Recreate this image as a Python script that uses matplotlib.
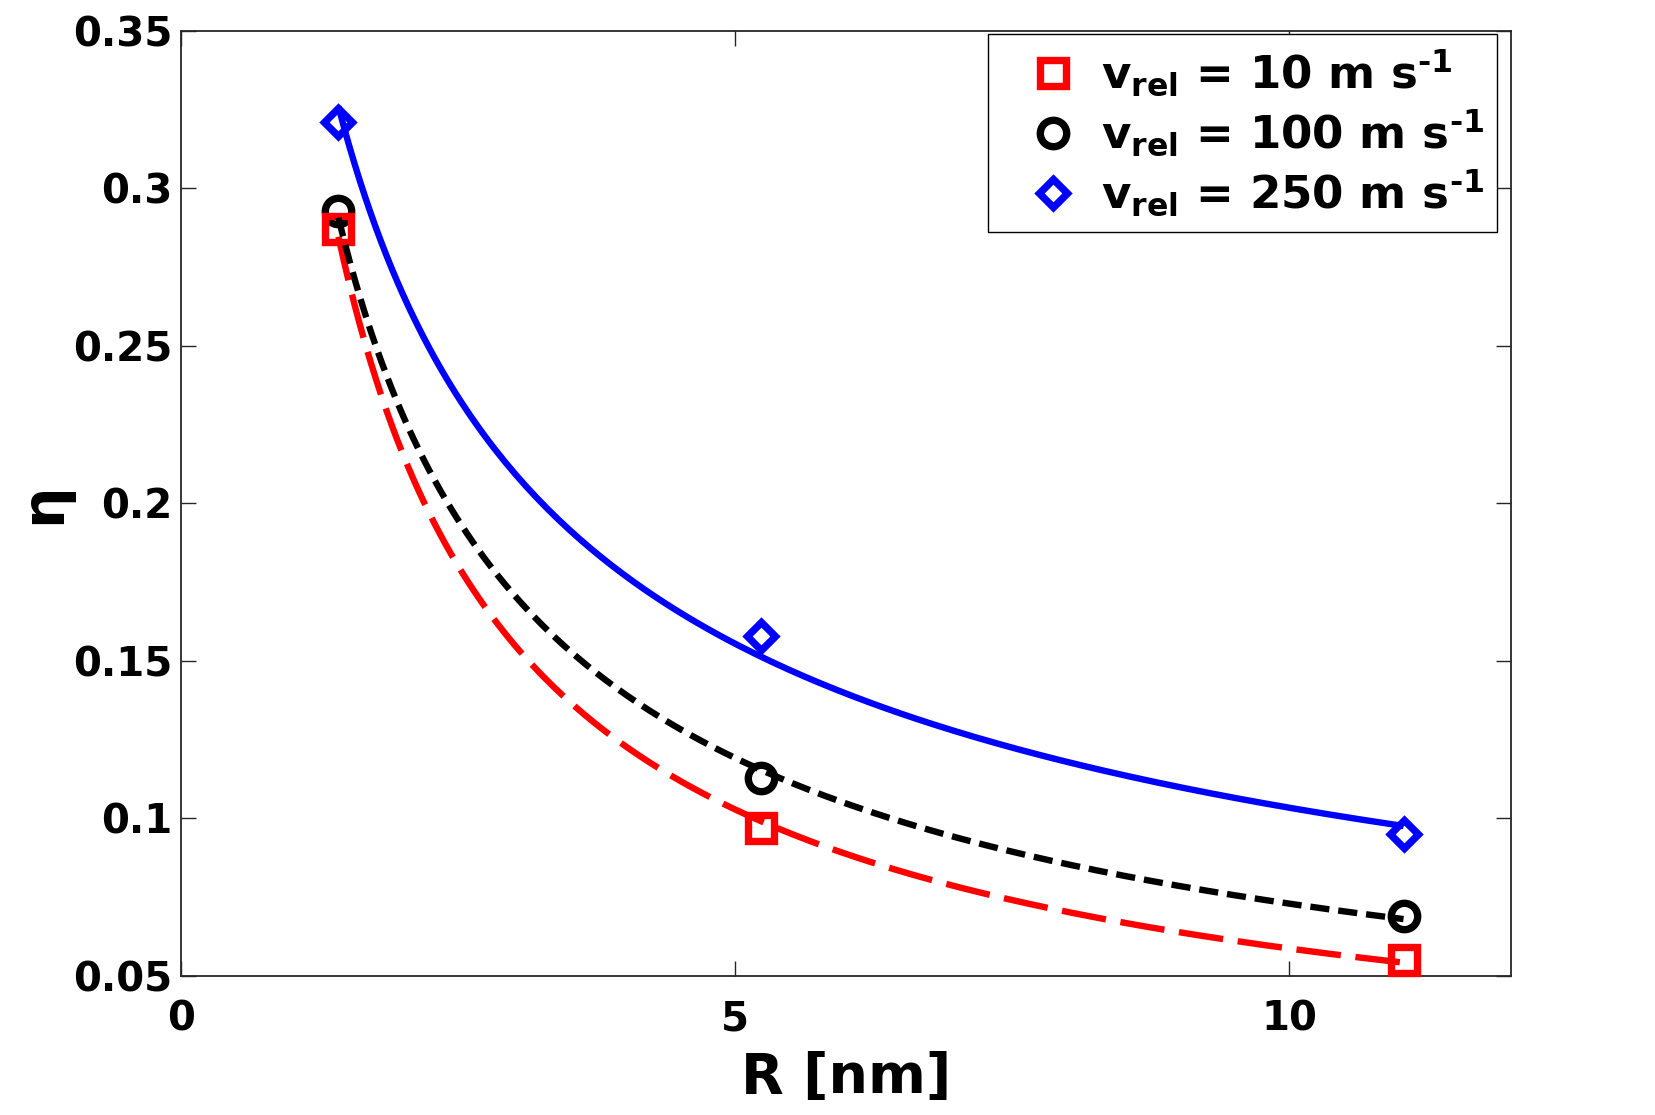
import numpy as np
import matplotlib
matplotlib.use("Agg")
import matplotlib.pyplot as plt

# ---- data ----
R_nm = [1.42, 5.23, 11.03]
eta_10 = [0.287, 0.097, 0.055]
eta_100 = [0.293, 0.113, 0.069]
eta_250 = [0.321, 0.158, 0.095]

labels = ["$v_{rel}$ = 10 m s$^{\u20101}$",
          "$v_{rel}$ = 100 m s$^{\u20101}$",
          "$v_{rel}$ = 250 m s$^{\u20101}$"]

xticks = [0, 5, 10]
yticks = [0.05, 0.1, 0.15, 0.2, 0.25, 0.3, 0.35]
yticklabels = ["0.05", "0.1", "0.15", "0.2", "0.25", "0.3", "0.35"]

plt.rcParams["font.family"] = ["DejaVu Sans"]
plt.rcParams["font.weight"] = "bold"
plt.rcParams["mathtext.fontset"] = "dejavusans"
plt.rcParams["mathtext.default"] = "bf"

fig = plt.figure(figsize=(16.55, 11.15), dpi=100)
ax = fig.add_axes([0.1094, 0.1247, 0.8036, 0.8475])

def power_fit(x, y):
    b, a = np.polyfit(np.log(x), np.log(y), 1)
    xs = np.linspace(min(x), max(x), 200)
    return xs, np.exp(a) * xs ** b

x = np.array(R_nm)
series = [
    (eta_10, "red", "s", 19, (7.0, 2.3)),
    (eta_100, "black", "o", 19, (3.0, 1.4)),
    (eta_250, "blue", "D", 14.5, None),
]

handles = []
zorders_m = {"red": 4, "black": 3, "blue": 3}
for (y, c, m, ms, dash) in series:
    h, = ax.plot(x, y, linestyle="none", marker=m, markersize=ms,
                 markerfacecolor="none", markeredgecolor=c,
                 markeredgewidth=5.3, zorder=zorders_m[c], clip_on=False)
    handles.append(h)

for i, (y, c, m, ms, dash) in enumerate(series):
    xs, ys = power_fit(x, np.array(y))
    ln, = ax.plot(xs, ys, color=c, linewidth=4.6, zorder=5 + i,
                  solid_capstyle="butt", dash_capstyle="butt")
    if dash is not None:
        ln.set_dashes(dash)

ax.set_xlim(0, 12)
ax.set_ylim(0.05, 0.35)
ax.set_xticks(xticks)
ax.set_xticklabels([str(t) for t in xticks])
ax.set_yticks(yticks)
ax.set_yticklabels(yticklabels)

ax.tick_params(direction="in", length=11, width=1.0, top=True, right=True,
               labelsize=29, colors="#262626", labelcolor="black")
ax.tick_params(axis="x", pad=17)
ax.tick_params(axis="y", pad=6)
for lab in ax.get_xticklabels() + ax.get_yticklabels():
    lab.set_fontweight("bold")
for sp in ax.spines.values():
    sp.set_linewidth(1.3)
    sp.set_color("#262626")

ax.set_xlabel("R [nm]", fontsize=40, fontweight="bold", labelpad=8)
ax.set_ylabel("η", fontsize=42, fontweight="bold", labelpad=1)

leg = ax.legend(handles, labels, loc="upper right",
                bbox_to_anchor=(0.9895, 0.997), borderaxespad=0,
                fontsize=32.5, frameon=True, fancybox=False, framealpha=1,
                edgecolor="black", handletextpad=-0.1, handlelength=2.3,
                labelspacing=0.22, borderpad=0.3, markerscale=1.0)
leg.get_frame().set_linewidth(1.0)
for t in leg.get_texts():
    t.set_fontweight("bold")

fig.savefig("out.png", dpi=100)
